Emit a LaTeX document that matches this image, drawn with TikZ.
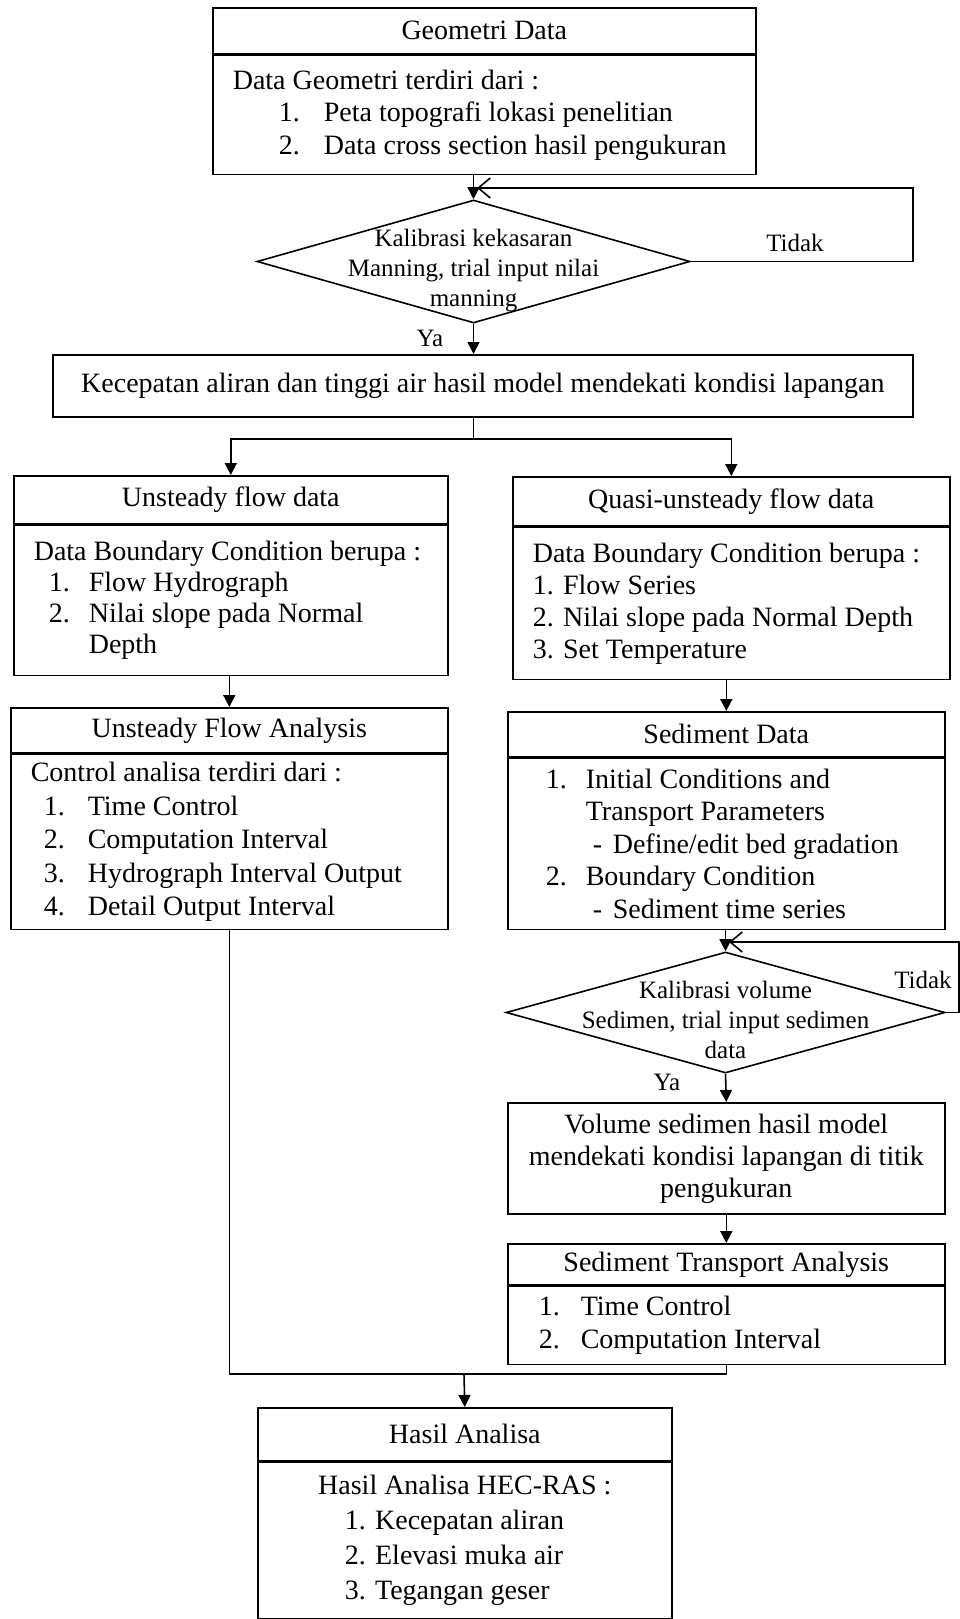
\documentclass[tikz,border=0pt]{standalone}
\usepackage{fontspec}
\setmainfont{Liberation Serif}
\usetikzlibrary{positioning,shapes.geometric,arrows.meta}

\newcommand{\itemno}[2]{\makebox[#1][l]{#2}}

\begin{document}
\begin{tikzpicture}[x=1pt, y=-1pt,
    box/.style = {draw, line width=1.6pt, inner sep=0pt, font=\fontsize{28}{32}\selectfont},
    head/.style 2 args = {box, minimum width=#1, minimum height=#2},
    body/.style 2 args = {box, align=flush left, inner xsep=20pt, text width=#1, minimum height=#2},
    decision/.style 2 args = {diamond, draw, line width=1.6pt, inner sep=0pt, minimum width=#1, minimum height=#2},
    small/.style = {font=\fontsize{25}{30}\selectfont, align=flush center, inner sep=0pt},
    arrow/.style = {line width=1.6pt, -{Triangle[length=12pt,width=12pt]}},
    link/.style = {line width=1.6pt},
    back/.style = {line width=1.6pt, -{Straight Barb[length=12pt,width=20pt]}}]

\useasboundingbox (0,0) rectangle (960,1619);

\node[head={543pt}{46pt}, anchor=north west] (geohead) at (212,7) {Geometri Data};
\node[body={503pt}{119pt}, font=\fontsize{28}{32.5}\selectfont, below=0pt of geohead] (geobody) {Data Geometri terdiri dari :\\
  \hspace*{46pt}\itemno{45pt}{1.}Peta topografi lokasi penelitian\\
  \hspace*{46pt}\itemno{45pt}{2.}Data cross section hasil pengukuran};

\node[decision={433pt}{123pt}] (cal1) at (473.5,261.5) {};
\node[small] (cal1txt) at ([yshift=-9pt]cal1.center) {Kalibrasi kekasaran\\Manning, trial input nilai\\manning};
\node[small] (tidak1) at (795,243) {Tidak};
\node[small] (ya1) at (430,338) {Ya};

\node[box, minimum width=860pt, minimum height=62pt, anchor=north west] (kec) at (52,354) {Kecepatan aliran dan tinggi air hasil model mendekati kondisi lapangan};

\node[head={434pt}{48pt}, anchor=north west] (ufdhead) at (13,475) {Unsteady flow data};
\node[body={394pt}{150pt}, font=\fontsize{28}{31}\selectfont, below=0pt of ufdhead] (ufdbody) {Data Boundary Condition berupa :\\
  \hspace*{15pt}\itemno{40pt}{1.}Flow Hydrograph\\
  \hspace*{15pt}\itemno{40pt}{2.}Nilai slope pada Normal\\
  \hspace*{55pt}Depth};

\node[head={437pt}{49pt}, anchor=north west] (qfdhead) at (512,476) {Quasi-unsteady flow data};
\node[body={397pt}{152pt}, below=0pt of qfdhead] (qfdbody) {Data Boundary Condition berupa :\\
  1. Flow Series\\
  2. Nilai slope pada Normal Depth\\
  3. Set Temperature};

\node[head={437pt}{45pt}, anchor=north west] (ufahead) at (10,707) {Unsteady Flow Analysis};
\node[body={397pt}{175pt}, font=\fontsize{28}{33.5}\selectfont, below=0pt of ufahead] (ufabody) {Control analisa terdiri dari :\\
  \hspace*{13pt}\itemno{44pt}{1.}Time Control\\
  \hspace*{13pt}\itemno{44pt}{2.}Computation Interval\\
  \hspace*{13pt}\itemno{44pt}{3.}Hydrograph Interval Output\\
  \hspace*{13pt}\itemno{44pt}{4.}Detail Output Interval};

\node[head={437pt}{45pt}, anchor=north west] (sedhead) at (507,711) {Sediment Data};
\node[body={397pt}{171pt}, font=\fontsize{28}{32.5}\selectfont, below=0pt of sedhead] (sedbody) {\hspace*{18pt}\itemno{40pt}{1.}Initial Conditions and\\
  \hspace*{58pt}Transport Parameters\\
  \hspace*{65pt}\itemno{20pt}{-}Define/edit bed gradation\\
  \hspace*{18pt}\itemno{40pt}{2.}Boundary Condition\\
  \hspace*{65pt}\itemno{20pt}{-}Sediment time series};

\node[decision={439pt}{121pt}] (cal2) at (725.5,1012.5) {};
\node[small] (cal2txt) at ([yshift=-7pt]cal2.center) {Kalibrasi volume\\Sedimen, trial input sedimen\\data};
\node[small] (tidak2) at (923,980) {Tidak};
\node[small] (ya2) at (667,1082) {Ya};

\node[box, align=flush center, text width=397pt, inner xsep=20pt, minimum height=111pt, anchor=north west] (vol) at (507,1102) {Volume sedimen hasil model\\mendekati kondisi lapangan di titik\\pengukuran};

\node[head={437pt}{41pt}, anchor=north west] (stahead) at (507,1243) {Sediment Transport Analysis};
\node[body={397pt}{78pt}, font=\fontsize{28}{33}\selectfont, below=0pt of stahead] (stabody) {\hspace*{11pt}\itemno{42pt}{1.}Time Control\\
  \hspace*{11pt}\itemno{42pt}{2.}Computation Interval};

\node[head={414pt}{53pt}, anchor=north west] (hasilhead) at (257,1407) {Hasil Analisa};
\node[body={374pt}{156pt}, align=flush center, font=\fontsize{28}{35}\selectfont, below=0pt of hasilhead] (hasilbody) {Hasil Analisa HEC-RAS :\\
  \itemno{240pt}{1. Kecepatan aliran}\\
  \itemno{240pt}{2. Elevasi muka air}\\
  \itemno{240pt}{3. Tegangan geser}};

\coordinate (loop1end) at (477,188);
\coordinate (split) at (473.5,439);
\coordinate (loop2end) at (729,942);
\coordinate (merge) at (464,1374);

\draw[arrow] (cal1.north |- geobody.south) -- (cal1.north);
\draw[back] (cal1.east) -- ++(222,0) |- (loop1end);
\draw[arrow] (cal1.south) -- (cal1.south |- kec.north);
\draw[link] (split |- kec.south) -- (split);
\draw[arrow] (split) -| (ufdhead.north);
\draw[arrow] (split) -| (qfdhead.north);
\draw[arrow] (ufahead.north |- ufdbody.south) -- (ufahead.north);
\draw[arrow] (sedhead.north |- qfdbody.south) -- (sedhead.north);
\draw[arrow] (cal2.north |- sedbody.south) -- (cal2.north);
\draw[back] (cal2.east) -- ++(13,0) |- (loop2end);
\draw[arrow] (cal2.south) -- (vol.north);
\draw[arrow] (vol.south) -- (stahead.north);
\draw[link] (ufabody.south) |- (merge) -| (stabody.south);
\draw[arrow] (merge) -- (hasilhead.north);
\end{tikzpicture}
\end{document}
